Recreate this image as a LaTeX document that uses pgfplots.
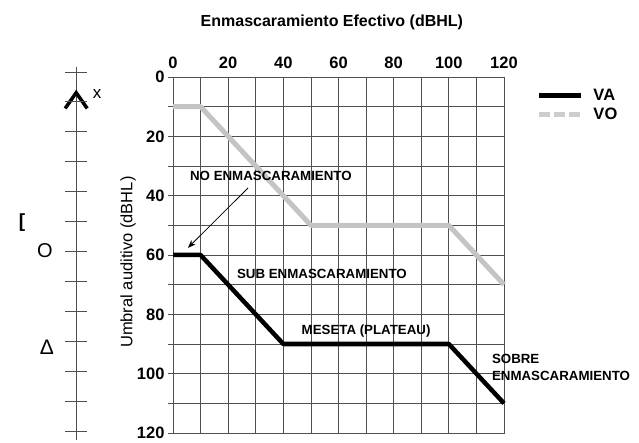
\documentclass[border=0pt]{standalone}
\usepackage{pgfplots}
\pgfplotsset{compat=1.18}
\usepackage{fontspec}
\setmainfont{Liberation Sans}
\usetikzlibrary{arrows.meta}
\definecolor{vogray}{HTML}{C4C4C4}
\definecolor{gridc}{HTML}{505050}
\begin{document}
\begin{tikzpicture}
\useasboundingbox (-173pt,-10pt) rectangle (466pt,433pt);
\begin{axis}[
  scale only axis, width=331pt, height=356pt,
  xmin=0, xmax=120, ymin=0, ymax=120,
  y dir=reverse,
  clip=false,
  xtick={0,20,...,120}, minor xtick={10,30,...,110},
  ytick={0,20,...,120}, minor ytick={10,30,...,110},
  grid=both,
  major grid style={draw=gridc, line width=0.8pt},
  minor grid style={draw=gridc, line width=0.8pt},
  axis line style={draw=gridc, line width=0.8pt},
  xticklabel pos=top,
  ytick pos=left,
  tick align=outside,
  major tick length=5pt, minor tick length=5pt,
  x tick style={draw=none},
  y tick style={draw=gridc, line width=0.8pt},
  /pgf/number format/assume math mode=true,
  ticklabel style={font=\fontsize{16.5}{18}\selectfont\bfseries},
  ylabel={Umbral auditivo (dBHL)},
  ylabel style={at={(axis description cs:-0.136,0.48)}, anchor=center, font=\fontsize{16.5}{18}\selectfont},
  legend style={at={(axis description cs:1.09,0.978)}, anchor=north west, draw=none, fill=none,
    font=\fontsize{16.5}{18}\selectfont\bfseries, row sep=2pt,
    /tikz/every even column/.append style={column sep=0pt},
    nodes={inner xsep=10pt}},
  legend cell align=left,
  legend image code/.code={\draw[#1] (0pt,0pt) -- (42pt,0pt);},
]
\addlegendimage{black, line width=4.5pt}
\addlegendentry{VA}
\addlegendimage{vogray!85, line width=4.5pt, dash pattern=on 11pt off 4pt}
\addlegendentry{VO}

% VO curve
\addplot[vogray, line width=5pt, line join=round, forget plot] coordinates {
  (0,10) (10,10) (50,50) (100,50) (120,70)};
% VA curve
\addplot[black, line width=4.5pt, line join=round, forget plot] coordinates {
  (0,60) (10,60) (40,90) (100,90) (120,110)};

% arrow
\addplot[black, line width=0.8pt, -{Stealth[length=8pt,width=6pt]}, forget plot] coordinates {
  (27.2,37.4) (5.4,57.6)};

% annotations
\node[font=\fontsize{13.3}{15}\selectfont\bfseries] at (axis cs:35.5,33.4) {NO ENMASCARAMIENTO};
\node[font=\fontsize{13.3}{15}\selectfont\bfseries] at (axis cs:54,66.5) {SUB ENMASCARAMIENTO};
\node[font=\fontsize{13.3}{15}\selectfont\bfseries] at (axis cs:70,85.6) {MESETA (PLATEAU)};
\node[font=\fontsize{13.3}{17}\selectfont\bfseries, align=left, anchor=west, inner xsep=0pt] at (axis cs:115.6,97.8) {SOBRE\\ENMASCARAMIENTO};

% title
\node[font=\fontsize{16}{18}\selectfont\bfseries, anchor=base] at (axis description cs:0.48,1) [yshift=50pt] {Enmascaramiento Efectivo (dBHL)};

% left ruler
\addplot[gridc, line width=0.9pt, forget plot] coordinates {(-35.1,-3.4) (-35.1,122.3)};
\addplot[only marks, mark=-, mark size=11pt, mark options={gridc, line width=0.9pt}, forget plot] coordinates {
  (-35.1,-1.7) (-35.1,8.4) (-35.1,18.5) (-35.1,28.6) (-35.1,38.7) (-35.1,48.8) (-35.1,58.9)
  (-35.1,69.0) (-35.1,79.1) (-35.1,89.2) (-35.1,99.3) (-35.1,109.4) (-35.1,119.5)};
\addplot[black, line width=3.5pt, forget plot] coordinates {(-39.1,10.6) (-35.1,5.3) (-31.1,10.6)};
\node[font=\fontsize{17}{18}\selectfont] at (axis cs:-27.5,5.6) {x};
\node[font=\fontsize{19}{20}\selectfont\bfseries] at (axis cs:-54.7,49.2) {[};
\node[font=\fontsize{20}{20}\selectfont] at (axis cs:-46.4,58.6) {O};
\node[font=\fontsize{21}{22}\selectfont] at (axis cs:-45.7,91) {Δ};
\end{axis}
\end{tikzpicture}
\end{document}
